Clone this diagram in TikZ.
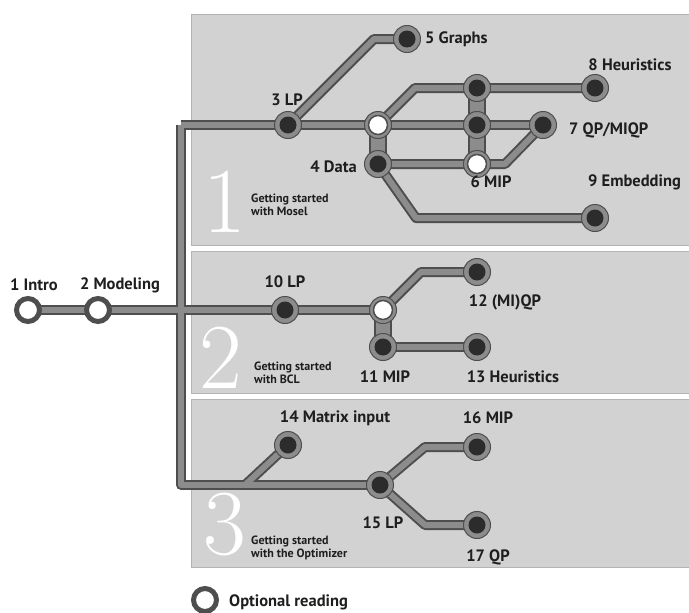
\documentclass[tikz,border=0pt]{standalone}
\usepackage{fontspec}
\newfontfamily\labfont{PT Sans}
\definecolor{panelgray}{HTML}{D2D2D2}
\definecolor{paneledge}{HTML}{B4B4B4}
\definecolor{linegray}{HTML}{8C8C8C}
\definecolor{edgegray}{HTML}{4E4E4E}
\definecolor{coredark}{HTML}{2C2C2C}
\definecolor{txt}{HTML}{1E1E1E}
\pgfdeclarelayer{panels}
\pgfdeclarelayer{outer}
\pgfdeclarelayer{inner}
\pgfsetlayers{panels,outer,inner,main}
\tikzset{
  panel/.style={fill=panelgray, draw=paneledge, line width=0.8pt},
  lo/.style={draw=edgegray, line width=10pt, line join=round},
  li/.style={draw=linegray, line width=6pt, line join=round},
  tlo/.style={draw=edgegray, line width=18pt},
  tli/.style={draw=linegray, line width=14pt},
  stn/.style={circle, minimum size=27pt, inner sep=0pt, fill=linegray, draw=edgegray, line width=1pt,
    path picture={\fill[coredark] (path picture bounding box.center) circle (8.5pt);}},
  opt/.style={circle, minimum size=27pt, inner sep=0pt, fill=linegray, draw=edgegray, line width=1pt,
    path picture={\filldraw[fill=white, draw=edgegray, line width=1.5pt] (path picture bounding box.center) circle (9.5pt);}},
  ext/.style={circle, minimum size=23pt, inner sep=0pt, fill=white, draw=edgegray, line width=5pt},
  lab/.style={font=\labfont\bfseries\fontsize{16.5}{18}\selectfont, text=txt, inner sep=0pt},
  sub/.style={font=\labfont\bfseries\fontsize{12}{13}\selectfont, text=txt, inner sep=0pt, align=left, anchor=north west},
  big/.style={font=\fontsize{93}{93}\selectfont, text=white, inner sep=0pt},
}
\begin{document}
\begin{tikzpicture}[x=1pt,y=-1pt]
\useasboundingbox (0,0) rectangle (689,613);
\begin{pgfonlayer}{panels}
  \fill[white] (0,0) rectangle (689,613);
  \path[panel] (191,14) rectangle (690,245);
  \path[panel] (191,251) rectangle (690,393);
  \path[panel] (191,399) rectangle (690,567);
\end{pgfonlayer}

% big numerals and subtitles
\node[big] (big1) at (224.5,201.5) {1};
\node[big] (big2) at (221,357.5) {2};
\node[big] (big3) at (224.5,525) {3};
\node[sub] (sub1) at (251,194) {Getting started\\with Mosel};
\node[sub] (sub2) at (254,362) {Getting started\\with BCL};
\node[sub] (sub3) at (251,536) {Getting started\\with the Optimizer};

% junctions
\coordinate (jtop) at (181,125);
\coordinate (jmid) at (181,310);
\coordinate (jbot) at (181,485);

% stations
\node[ext] (n1) at (28,310) {};
\node[ext] (n2) at (98,310) {};
\node[stn] (n3) at (288,125) {};
\node[stn] (n5) at (407,39) {};
\node[opt] (a1) at (378,125) {};
\node[stn] (n4) at (378,164) {};
\node[stn] (c1) at (477,88) {};
\node[stn] (c2) at (477,125) {};
\node[opt] (n6) at (477,164) {};
\node[stn] (n8) at (595,88) {};
\node[stn] (n7) at (543,125) {};
\node[stn] (n9) at (595,218) {};
\node[stn] (n10) at (285,310) {};
\node[opt] (b1) at (383,310) {};
\node[stn] (n11) at (383,347) {};
\node[stn] (n12) at (477,272) {};
\node[stn] (n13) at (477,347) {};
\node[stn] (n14) at (288,445) {};
\node[stn] (n15) at (380,485) {};
\node[stn] (n16) at (477,447) {};
\node[stn] (n17) at (477,525) {};
\node[ext] (leg) at (205,600) {};

% connectors
\foreach \ly/\st in {outer/lo, inner/li}{
\begin{pgfonlayer}{\ly}
  \draw[\st] (jtop) -- (n3.center) -- (a1.center) -- (c2.center) -- (n7.center);
  \draw[\st] (n3.center) -- (374,39) -- (n5.center);
  \draw[\st] (a1.center) -- (415,88) -- (c1.center) -- (n8.center);
  \draw[\st] (n4.center) -- (n6.center) -- (505,164) -- (n7.center);
  \draw[\st] (n4.center) -- (416,218) -- (n9.center);
  \draw[\st] (n1.center) -- (n2.center) -- (jmid) -- (n10.center) -- (b1.center);
  \draw[\st] (b1.center) -- (421,272) -- (n12.center);
  \draw[\st] (n11.center) -- (n13.center);
  \draw[\st] (jtop) -- (jmid) -- (jbot) -- (n15.center);
  \draw[\st] (n14.center) -- (245,485);
  \draw[\st] (n15.center) -- (425,447) -- (n16.center);
  \draw[\st] (n15.center) -- (425,525) -- (n17.center);
\end{pgfonlayer}
}
\foreach \ly/\st in {outer/tlo, inner/tli}{
\begin{pgfonlayer}{\ly}
  \draw[\st] (a1.center) -- (n4.center);
  \draw[\st] (c1.center) -- (n6.center);
  \draw[\st] (b1.center) -- (n11.center);
\end{pgfonlayer}
}

% labels
\node[lab] (l1) at (34,285) {1 Intro};
\node[lab] (l2) at (120,285) {2 Modeling};
\node[lab] (l3) at (287,100) {3 LP};
\node[lab, anchor=west] (l5) at (425,39) {5 Graphs};
\node[lab] (l8) at (630,65) {8 Heuristics};
\node[lab, anchor=west] (l7) at (569,130) {7 QP/MIQP};
\node[lab, anchor=east] (l4) at (357,167) {4 Data};
\node[lab] (l6) at (491,182) {6 MIP};
\node[lab, anchor=west] (l9) at (588,182) {9 Embedding};
\node[lab] (l10) at (285,282) {10 LP};
\node[lab] (l12) at (505,302) {12 (MI)QP};
\node[lab] (l11) at (385,377) {11 MIP};
\node[lab] (l13) at (513,377) {13 Heuristics};
\node[lab] (l14) at (335,418) {14 Matrix input};
\node[lab] (l16) at (488,418) {16 MIP};
\node[lab] (l15) at (383,523) {15 LP};
\node[lab] (l17) at (488,557) {17 QP};
\node[lab, anchor=west] (lleg) at (229,602) {Optional reading};
\end{tikzpicture}
\end{document}
